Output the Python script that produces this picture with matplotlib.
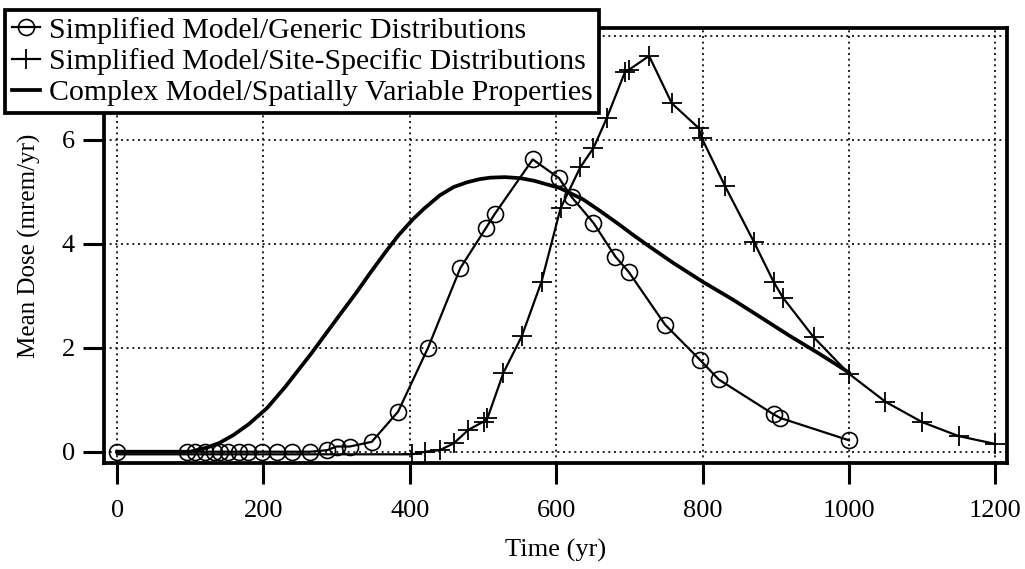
import matplotlib
matplotlib.use("Agg")
import matplotlib.pyplot as plt

plt.rcParams['font.family'] = ['Liberation Serif', 'DejaVu Serif']

# Simplified Model / Generic Distributions (circles)
gen_x = [0, 95, 107, 120, 132, 141, 152, 166, 179, 198, 218, 239, 264, 287, 300,
         318, 348, 384, 425, 469, 504, 516, 568, 604, 621, 651, 681, 699, 749, 797,
         822, 897, 906, 1000]
gen_y = [0, 0, 0, 0, 0, 0, 0, 0, 0, 0, 0, 0, 0, 0.03, 0.1,
         0.1, 0.19, 0.77, 2.0, 3.53, 4.3, 4.57, 5.62, 5.26, 4.9, 4.4, 3.75, 3.46, 2.44, 1.76,
         1.39, 0.72, 0.65, 0.22]

# Simplified Model / Site-Specific Distributions (plus)
site_x = [403, 421, 441, 460, 480, 501, 506, 528, 553, 580, 606, 633, 651, 669,
          694, 699, 727, 758, 795, 799, 831, 870, 897, 910, 952, 1000, 1050, 1100,
          1150, 1200]
site_y = [-0.05, 0.0, 0.03, 0.16, 0.42, 0.58, 0.64, 1.52, 2.22, 3.27, 4.68, 5.47, 5.84, 6.41,
          7.3, 7.34, 7.61, 6.7, 6.22, 6.03, 5.1, 4.04, 3.27, 2.96, 2.2, 1.5, 0.96, 0.57,
          0.3, 0.15]
site_line_x = [0] + site_x
site_line_y = [-0.05] + site_y

# Complex Model / Spatially Variable Properties (smooth)
cmp_x = [0, 100, 123, 140, 159, 180, 205, 230, 266, 300, 328, 345, 369, 385, 405,
         420, 441, 460, 478, 495, 510, 530, 551, 570, 605, 637, 660, 683, 705, 728,
         760, 800, 842, 880, 920, 960, 988, 1000]
cmp_y = [0, 0.0, 0.08, 0.17, 0.32, 0.53, 0.84, 1.25, 1.9, 2.55, 3.08, 3.42, 3.88, 4.17, 4.48,
         4.68, 4.93, 5.09, 5.18, 5.24, 5.27, 5.28, 5.26, 5.21, 5.07, 4.85, 4.63, 4.4, 4.17, 3.94,
         3.63, 3.27, 2.92, 2.58, 2.22, 1.88, 1.63, 1.52]

x_ticks = [0, 200, 400, 600, 800, 1000, 1200]
y_ticks = [0, 2, 4, 6]
grid_y = [0, 2, 4, 6, 8]

fig = plt.figure(figsize=(10.25, 5.69), dpi=100)
ax = fig.add_axes([0.1015, 0.1863, 0.9824 - 0.1015, 0.951 - 0.1863])

ax.plot(gen_x, gen_y, color='black', lw=1.6, marker='o', ms=11.5, mfc='none',
        mec='black', mew=1.2, label='Simplified Model/Generic Distributions', zorder=3)
ax.plot(site_line_x, site_line_y, color='black', lw=1.6, zorder=3)
ax.plot(site_x, site_y, color='black', lw=0, marker='+', ms=14, mew=1.3, zorder=3)
ax.plot(cmp_x, cmp_y, color='black', lw=2.7, solid_joinstyle='round',
        label='Complex Model/Spatially Variable Properties', zorder=4)

# legend proxy for site-specific
ax.plot([], [], color='black', lw=1.6, marker='+', ms=14, mew=1.3,
        label='Simplified Model/Site-Specific Distributions')

ax.set_xlim(-17.8, 1216)
ax.set_ylim(-0.217, 8.15)
ax.set_xticks(x_ticks)
ax.set_yticks(y_ticks)
for gx in x_ticks:
    ax.axvline(gx, color='black', lw=1.2, ls=(0, (1.2, 2.2)), zorder=1)
for gy in grid_y:
    ax.axhline(gy, color='black', lw=1.2, ls=(0, (1.2, 2.2)), zorder=1)

for s in ax.spines.values():
    s.set_linewidth(2.7)
ax.tick_params(axis='both', direction='out', length=15, width=2.2, labelsize=19)
ax.tick_params(axis='x', pad=12)
ax.tick_params(axis='y', pad=6)
ax.set_xlabel('Time (yr)', fontsize=19, labelpad=12)
ax.set_ylabel('Mean Dose (mrem/yr)', fontsize=18, labelpad=15)

handles, labels = ax.get_legend_handles_labels()
order = ['Simplified Model/Generic Distributions',
         'Simplified Model/Site-Specific Distributions',
         'Complex Model/Spatially Variable Properties']
hmap = dict(zip(labels, handles))
leg = fig.legend([hmap[k] for k in order], order, loc='upper left',
                 bbox_to_anchor=(5 / 1025, 1 - 10 / 569), borderaxespad=0,
                 fontsize=21.5, frameon=True, fancybox=False, framealpha=1,
                 edgecolor='black', handlelength=0.95, handletextpad=0.3,
                 labelspacing=0.15, borderpad=0.22, numpoints=1)
leg.get_frame().set_linewidth(2.7)

fig.savefig('out.png', dpi=100)
